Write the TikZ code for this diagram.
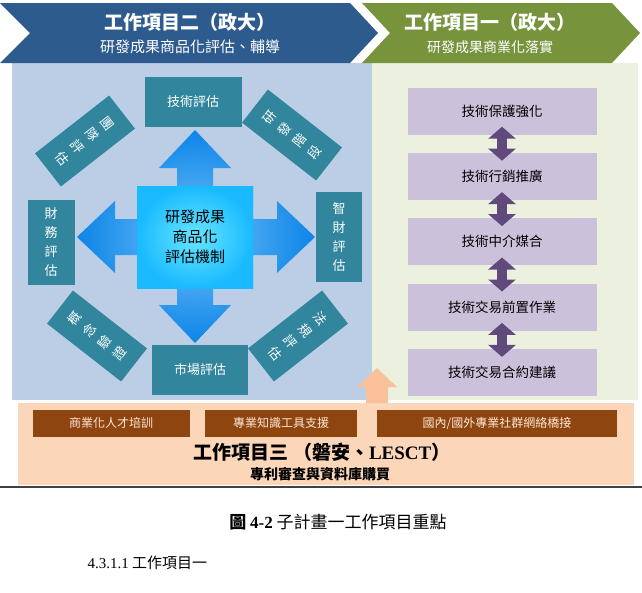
\documentclass[tikz,border=0pt]{standalone}
\usepackage{fontspec}
\setmainfont{Noto Sans CJK TC}
\newfontfamily\latinserif{Liberation Serif}
\usepackage{xcolor}
\definecolor{colBanBlue}{HTML}{2E5B8E}
\definecolor{colBanGreen}{HTML}{77933C}
\definecolor{colPanBlue}{HTML}{BCCEE5}
\definecolor{colPanGreen}{HTML}{EBF0DF}
\definecolor{colPanPeach}{HTML}{FCD6B8}
\definecolor{colPeachArrow}{HTML}{F8C19A}
\definecolor{colTeal}{HTML}{31859C}
\definecolor{colPurBox}{HTML}{CCC1DA}
\definecolor{colPurArrow}{HTML}{604A7B}
\definecolor{colBrown}{HTML}{8F4510}
\colorlet{colBrownText}{colPanPeach!60!white}
\usepackage{tikz}
\usetikzlibrary{arrows.meta, positioning, calc}

\begin{document}
\begin{tikzpicture}[x=1pt, y=-1pt,
	tealbox/.style={fill=colTeal, text=white, inner sep=0pt, align=center, font=\fontsize{13}{19}\selectfont},
	purbox/.style={fill=colPurBox, minimum width=189, minimum height=47, inner sep=0pt, font=\fontsize{13.5}{15}\selectfont},
	brownbox/.style={fill=colBrown, text=colBrownText, minimum height=27, inner sep=0pt, font=\fontsize{12}{14}\selectfont},
	linkarrow/.style={colPurArrow, line width=10pt, {Triangle[width=27pt,length=12pt]}-{Triangle[width=27pt,length=12pt]}, shorten <=-8pt, shorten >=-8pt}]
	\useasboundingbox (0,0) rectangle (642,592);
	% panels
	\fill[colPanBlue] (12,63) rectangle (372,400);
	\fill[colPanGreen] (372,63) rectangle (638,400);
	\fill[colPanPeach] (18,403) rectangle (634,485);
	\fill[colPeachArrow] (366,403) -- (366,387) -- (357,387) -- (377,368) -- (397,387) -- (388,387) -- (388,403) -- cycle;
	% banners
	\fill[colBanBlue] (0,3) -- (350,3) -- (378,33) -- (350,63) -- (0,63) -- (30,33) -- cycle;
	\fill[colBanGreen] (362,3) -- (612,3) -- (640,33) -- (612,63) -- (362,63) -- (390,33) -- cycle;
	\node[text=white, font=\bfseries\fontsize{19}{21}\selectfont] (titleB) at (190,22) {工作項目二（政大）};
	\node[text=white, font=\fontsize{15}{17}\selectfont] (subB) at (190,47) {研發成果商品化評估、輔導};
	\node[text=white, font=\bfseries\fontsize{19}{21}\selectfont] (titleA) at (490,22) {工作項目一（政大）};
	\node[text=white, font=\fontsize{14}{16}\selectfont] (subA) at (490,47) {研發成果商業化落實};
	% four-way arrow and core
	\begin{scope}[shift={(195,237)}]
		\shade[inner color=colTeal!10!cyan!60!blue!55, outer color=blue!45!cyan!90!black!95]
			(-18,-51) -- (-18,-69) -- (-36,-69) -- (0,-107) -- (36,-69) -- (18,-69) -- (18,-51)
			-- (58,-51) -- (58,-18) -- (82,-18) -- (82,-36) -- (120,0) -- (82,36) -- (82,18) -- (58,18)
			-- (58,51) -- (18,51) -- (18,68) -- (36,68) -- (0,106) -- (-36,68) -- (-18,68) -- (-18,51)
			-- (-58,51) -- (-58,18) -- (-80,18) -- (-80,36) -- (-118,0) -- (-80,-36) -- (-80,-18) -- (-58,-18)
			-- (-58,-51) -- cycle;
	\end{scope}
	\node[shade, inner color=cyan!55!white!90!blue, outer color=cyan!70!blue!90, minimum width=116, minimum height=102, align=center, font=\fontsize{15}{20}\selectfont] (core) at (195,237) {研發成果\\商品化\\評估機制};
	% evaluation boxes
	\node[tealbox, minimum width=97, minimum height=50] (tech) at (193,102) {技術評估};
	\node[tealbox, minimum width=96, minimum height=50] (market) at (200,370) {市場評估};
	\node[tealbox, minimum width=47, minimum height=85] (finance) at (51,242) {財\\務\\評\\估};
	\node[tealbox, minimum width=46, minimum height=90] (ipr) at (339,237) {智\\財\\評\\估};
	\node[tealbox, minimum width=42, minimum height=94, rotate=-52] (team) at (85,141) {團\\隊\\評\\估};
	\node[tealbox, minimum width=42, minimum height=94, rotate=52] (stage) at (292,135) {研\\發\\階\\段};
	\node[tealbox, minimum width=42, minimum height=94, rotate=52] (poc) at (97,336) {概\\念\\驗\\證};
	\node[tealbox, minimum width=42, minimum height=94, rotate=-52] (law) at (298,336) {法\\規\\評\\估};
	% commercialization steps
	\node[purbox] (p1) at (502,111) {技術保護強化};
	\node[purbox, below=18pt of p1] (p2) {技術行銷推廣};
	\node[purbox, below=18pt of p2] (p3) {技術中介媒合};
	\node[purbox, below=18pt of p3] (p4) {技術交易前置作業};
	\node[purbox, below=18pt of p4] (p5) {技術交易合約建議};
	\foreach \a/\b in {p1/p2, p2/p3, p3/p4, p4/p5}
		\draw[linkarrow] (\a.south) -- (\b.north);
	% work item three
	\node[brownbox, minimum width=157] (train) at (111,423) {商業化人才培訓};
	\node[brownbox, minimum width=152] (tool) at (281,423) {專業知識工具支援};
	\node[brownbox, minimum width=240] (bridge) at (497,423) {國內/國外專業社群網絡橋接};
	\node[font=\bfseries\fontsize{19}{21}\selectfont] (titleC) at (322,452) {工作項目三 （磐安、{\latinserif LESCT}）};
	\node[font=\bfseries\fontsize{14}{16}\selectfont] (subC) at (320,474) {專利審查與資料庫購買};
	\draw[line width=1.5pt, black!75] (0,487) -- (642,487);
	% caption
	\node[font=\fontsize{17}{19}\selectfont] (caption) at (338,522) {\textbf{圖 {\latinserif 4-2}} 子計畫一工作項目重點};
	\node[anchor=west, font=\fontsize{15}{17}\selectfont] (section) at (84,563) {{\latinserif 4.3.1.1} 工作項目一};
\end{tikzpicture}
\end{document}
